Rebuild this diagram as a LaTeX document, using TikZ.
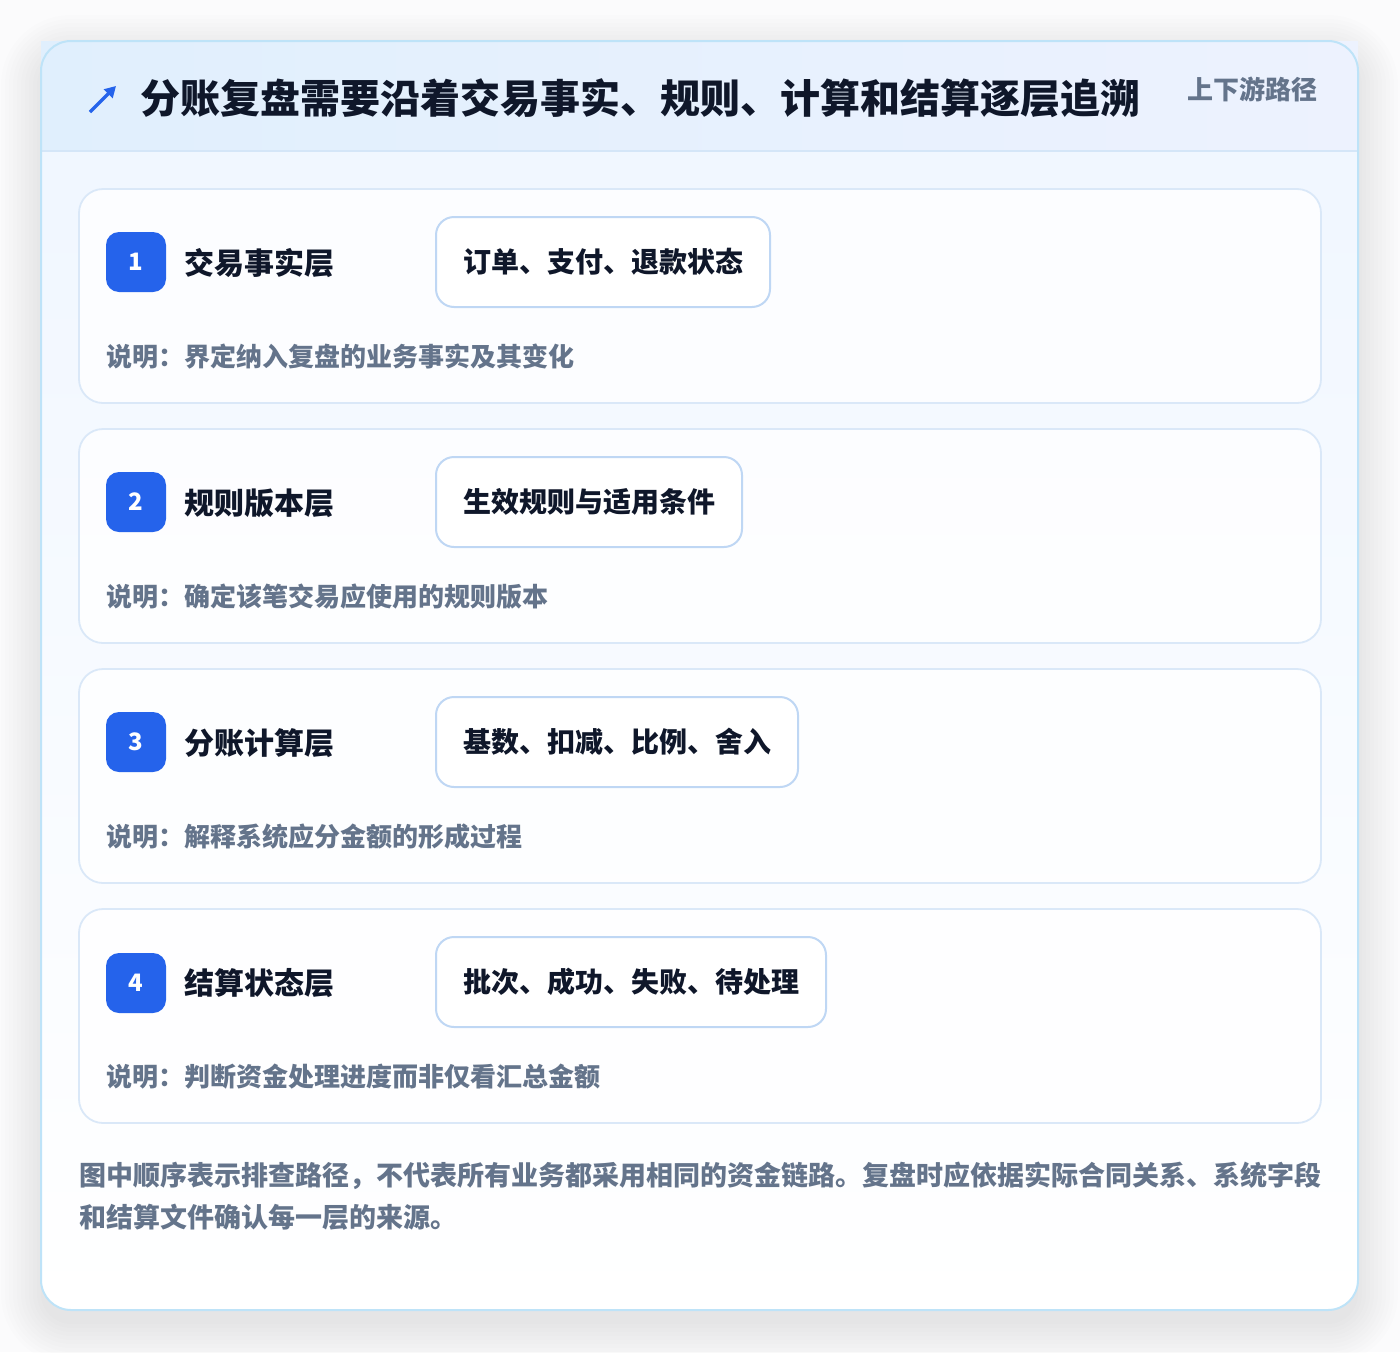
\documentclass[tikz,border=0pt]{standalone}
\usepackage{fontspec}
\setmainfont{Noto Sans CJK SC}
\usetikzlibrary{arrows.meta}
\definecolor{inkdark}{HTML}{0F172A}
\definecolor{inkgray}{HTML}{64748B}
\definecolor{badgeblue}{HTML}{2563EB}
\definecolor{pillline}{HTML}{BFD7F4}
\definecolor{layerline}{HTML}{DAE8F8}
\definecolor{cardline}{HTML}{BEE3F8}
\definecolor{cardtop}{HTML}{EFF6FF}
\definecolor{headleft}{HTML}{E0EFFD}
\definecolor{headright}{HTML}{EDF2FE}
\definecolor{headline}{HTML}{D4E6F8}
\definecolor{pagebg}{HTML}{FBFBFC}
\begin{document}
\begin{tikzpicture}[x=1pt,y=-1pt,
  layerbox/.style={draw=layerline, line width=1.8pt, fill=white, fill opacity=0.8, rounded corners=24pt, minimum width=1242pt, minimum height=214pt},
  badge/.style={fill=badgeblue, text=white, rounded corners=13pt, minimum size=60pt, inner sep=0pt, font=\fontsize{24}{24}\selectfont\bfseries},
  layername/.style={anchor=west, inner sep=0pt, text=inkdark, font=\fontsize{30}{30}\selectfont\bfseries},
  pill/.style={anchor=west, draw=pillline, line width=2pt, fill=white, rounded corners=18pt, minimum height=90pt, inner xsep=27pt, text=inkdark, font=\fontsize{28}{28}\selectfont\bfseries},
  note/.style={anchor=west, inner sep=0pt, text=inkgray, font=\fontsize{26}{26}\selectfont\bfseries}]
\useasboundingbox (0,0) rectangle (1400,1352);
\fill[pagebg] (0,0) rectangle (1400,1352);
% soft shadow under the card
\foreach \g in {0,...,10}{
  \pgfmathsetmacro{\d}{\g*4}
  \fill[black, opacity=0.008, rounded corners=30pt+\d pt] (41-\d,55-\d) rectangle (1358+\d,1324+\d);
}
% card and header
\fill[top color=cardtop, bottom color=white, rounded corners=30pt] (41,41) rectangle (1358,1310);
\fill[left color=headleft, right color=headright] (41,41) rectangle (1358,151);
\draw[headline, line width=1.5pt] (41,151) -- (1358,151);
\draw[cardline, line width=2pt, rounded corners=30pt] (41,41) rectangle (1358,1310);
\coordinate (icontail) at (90,112);
\coordinate (iconhead) at (116,86);
\draw[badgeblue, line width=3.5pt, -{Triangle[length=11pt,width=12pt]}] (icontail) -- (iconhead);
\node[anchor=west, inner sep=0pt, text=inkdark, font=\fontsize{40}{40}\selectfont\bfseries] (ttl) at (140,98) {分账复盘需要沿着交易事实、规则、计算和结算逐层追溯};
\node[anchor=east, inner sep=0pt, text=inkgray, font=\fontsize{26}{26}\selectfont\bfseries] (tag) at (1318,89) {上下游路径};
% layer 1
\node[layerbox] (lay1) at (700,296){};
\node[badge] (num1) at (136,262){1};
\node[layername] (name1) at (184,263){交易事实层};
\node[pill] (pill1) at (435,262){订单、支付、退款状态};
\node[note] (note1) at (106,357){说明：界定纳入复盘的业务事实及其变化};
% layer 2
\node[layerbox] (lay2) at (700,536){};
\node[badge] (num2) at (136,502){2};
\node[layername] (name2) at (184,503){规则版本层};
\node[pill] (pill2) at (435,502){生效规则与适用条件};
\node[note] (note2) at (106,597){说明：确定该笔交易应使用的规则版本};
% layer 3
\node[layerbox] (lay3) at (700,776){};
\node[badge] (num3) at (136,742){3};
\node[layername] (name3) at (184,743){分账计算层};
\node[pill] (pill3) at (435,742){基数、扣减、比例、舍入};
\node[note] (note3) at (106,837){说明：解释系统应分金额的形成过程};
% layer 4
\node[layerbox] (lay4) at (700,1016){};
\node[badge] (num4) at (136,983){4};
\node[layername] (name4) at (184,983){结算状态层};
\node[pill] (pill4) at (435,982){批次、成功、失败、待处理};
\node[note] (note4) at (106,1077){说明：判断资金处理进度而非仅看汇总金额};
% footer
\node[anchor=west, inner sep=0pt, align=left, text=inkgray, font=\fontsize{27}{42}\selectfont\bfseries] (foot) at (79,1196){图中顺序表示排查路径，不代表所有业务都采用相同的资金链路。复盘时应依据实际合同关系、系统字段\\和结算文件确认每一层的来源。};
\end{tikzpicture}
\end{document}
